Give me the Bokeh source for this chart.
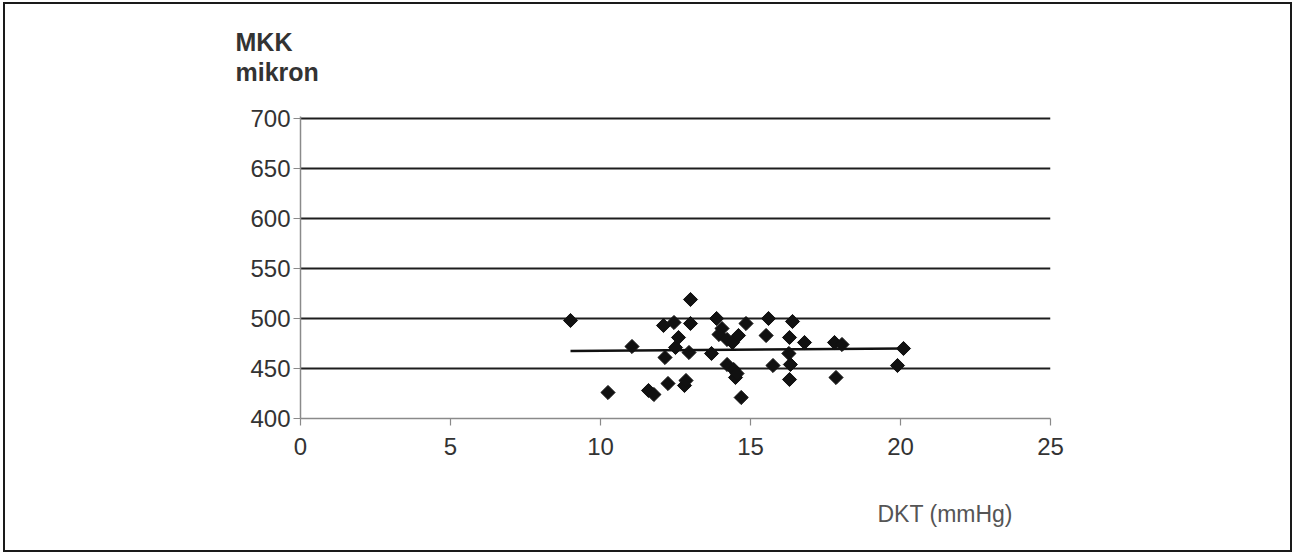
import math
from bokeh.plotting import figure
from bokeh.models import Range1d, FixedTicker, Title
from bokeh.embed import file_html
from bokeh.resources import INLINE

# Data (DKT mmHg vs MKK micron)
dkt = [9.0, 10.25, 11.05, 11.6, 11.78, 12.1, 12.45, 12.15, 12.25, 12.5,
       12.6, 12.8, 12.85, 13.0, 13.0, 12.95, 13.7, 13.87, 14.05, 13.95,
       14.22, 14.4, 14.6, 14.85, 14.22, 14.44, 14.5, 14.55, 14.69, 15.6,
       15.52, 15.75, 16.4, 16.3, 16.8, 16.28, 16.33, 16.3, 17.8, 18.05,
       17.85, 19.9, 20.1]
mkk = [498, 426, 472, 428, 424, 493, 496, 461, 435, 471,
       481, 433, 438, 519, 495, 466, 465, 500, 490, 484,
       479, 476, 483, 495, 454, 449, 441, 445, 421, 500,
       483, 453, 497, 481, 476, 465, 454, 439, 476, 474,
       441, 453, 470]

trend_x = [9.0, 20.1]
trend_y = [467.5, 470.0]

x_ticks = [0, 5, 10, 15, 20, 25]
y_ticks = [400, 450, 500, 550, 600, 650, 700]
grid_ticks = [450, 500, 550, 600, 650, 700]

y_title = "MKK\nmikron\n"
x_title = "\nDKT (mmHg)"

W, H = 1285, 546
p = figure(width=W, height=H, output_backend="svg", toolbar_location=None,
           x_range=Range1d(0, 25), y_range=Range1d(400, 702),
           min_border_left=295, min_border_right=240,
           min_border_top=112, min_border_bottom=132,
           title=y_title)
p.margin = (4, 0, 0, 5)
p.styles = {"outline": "2px solid #1a1a1a"}
p.outline_line_color = None
p.background_fill_color = "white"
p.border_fill_color = "white"

# axes
p.xaxis.ticker = FixedTicker(ticks=x_ticks)
p.yaxis.ticker = FixedTicker(ticks=y_ticks)
for ax in (p.xaxis[0], p.yaxis[0]):
    ax.axis_line_color = "#8a8a8a"
    ax.axis_line_width = 1.5
    ax.major_tick_line_color = "#8a8a8a"
    ax.major_tick_line_width = 1.2
    ax.major_tick_in = 0
    ax.major_tick_out = 7
    ax.minor_tick_line_color = None
    ax.major_label_text_font = "Liberation Sans"
    ax.major_label_text_font_size = "24px"
    ax.major_label_text_color = "#333333"
p.yaxis.major_label_standoff = 3
p.xaxis.major_label_standoff = 12

p.xgrid.grid_line_color = None
p.ygrid.ticker = FixedTicker(ticks=grid_ticks)
p.ygrid.grid_line_color = "#1e1e1e"
p.ygrid.grid_line_width = 2

p.line(trend_x, trend_y, line_color="#111111", line_width=2.5)
p.scatter(dkt, mkk, marker="square", angle=math.pi / 4, size=10,
          fill_color="#111111", line_color="#111111")

# axis titles
p.title.align = "left"
p.title.offset = -65
p.title.standoff = 0
p.title.vertical_align = "bottom"
p.title.text_font = "Liberation Sans"
p.title.text_font_size = "25px"
p.title.text_font_style = "bold"
p.title.text_color = "#333333"
p.title.text_line_height = 1.08
p.add_layout(Title(text=x_title, align="left", offset=577, standoff=27,
                   vertical_align="top", text_line_height=1.16,
                   text_font="Liberation Sans", text_font_size="23px",
                   text_font_style="normal", text_color="#555555"), "below")

open("out.html", "w").write(file_html(p, INLINE))
